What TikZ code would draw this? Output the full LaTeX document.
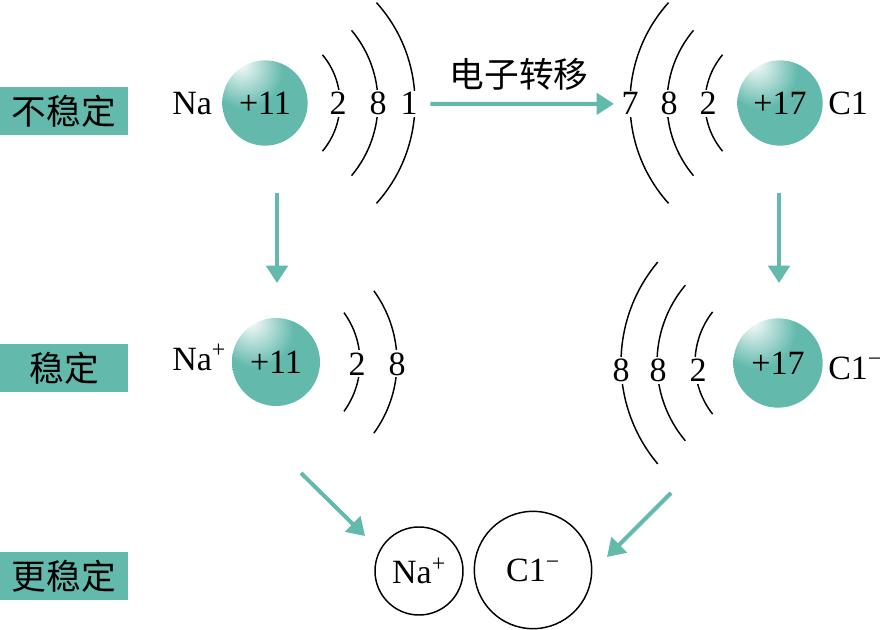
\documentclass[tikz,border=0pt]{standalone}
\usepackage{fontspec}
\setmainfont{Liberation Serif}
\newfontfamily\cjk{Noto Sans CJK SC}
\usetikzlibrary{arrows.meta}
\definecolor{atomteal}{RGB}{98,185,172}
\pgfdeclareradialshading{ballhl}{\pgfpoint{-15bp}{24bp}}{color(0bp)=(white); color(3bp)=(white!85!atomteal); color(22bp)=(atomteal); color(100bp)=(atomteal)}
\begin{document}
\begin{tikzpicture}[x=0.75pt,y=-0.75pt,
  font=\fontsize{25.5}{30}\selectfont,
  ball/.style={circle,shading=ballhl,minimum size=64pt,inner sep=0pt},
  ion/.style={circle,draw,line width=1.1pt,inner sep=0pt},
  tag/.style={fill=atomteal,minimum width=96pt,minimum height=36pt,inner sep=0pt,font=\cjk\fontsize{26}{30}\selectfont},
  shellno/.style={fill=white,inner sep=1.5pt,anchor=base},
  shell/.style={line width=1.1pt},
  flow/.style={draw=atomteal,line width=3pt,-{Triangle[length=13pt,width=16pt]}}]
\useasboundingbox (0,0) rectangle (884,630);
\node (t1) at (64,111) [tag] {不稳定};
\node (t2) at (64,368) [tag] {稳定};
\node (t3) at (64,576) [tag] {更稳定};
\node (na1) at (265,103) [ball] {+11};
\node (cl1) at (780,103) [ball] {+17};
\node (na2) at (276,362) [ball,minimum size=66pt] {+11};
\node (cl2) at (778,363) [ball,minimum size=67pt] {+17};
\node (nasym1) at (172,115) [anchor=base west,inner sep=0pt] {Na};
\node (clsym1) at (828,115) [anchor=base west,inner sep=0pt] {C1};
\node (nasym2) at (172,370) [anchor=base west,inner sep=0pt] {Na\textsuperscript{+}};
\node (clsym2) at (828,379) [anchor=base west,inner sep=0pt] {C1\textsuperscript{−}};
\foreach \r/\a in {75/40,113/40,150/42}
  \draw[shell] (na1.center) ++(-\a:\r) arc[start angle=-\a,end angle=\a,radius=\r];
\foreach \r/\a in {75/40,113/40,150/42}
  \draw[shell] (cl1.center) ++({180-\a}:\r) arc[start angle=180-\a,end angle=180+\a,radius=\r];
\foreach \r/\a in {84/36,121/36}
  \draw[shell] (na2.center) ++(-\a:\r) arc[start angle=-\a,end angle=\a,radius=\r];
\foreach \r/\a in {83/38,121/40,157/40}
  \draw[shell] (cl2.center) ++({180-\a}:\r) arc[start angle=180-\a,end angle=180+\a,radius=\r];
\node (n11) at (338,115) [shellno] {2};
\node (n12) at (378,115) [shellno] {8};
\node (n13) at (409,115) [shellno] {1};
\node (c13) at (630,115) [shellno] {7};
\node (c12) at (669,115) [shellno] {8};
\node (c11) at (708,115) [shellno] {2};
\node (n21) at (357,375) [shellno] {2};
\node (n22) at (397,375) [shellno] {8};
\node (c23) at (621,382) [shellno] {8};
\node (c22) at (658,382) [shellno] {8};
\node (c21) at (698,382) [shellno] {2};
\node (mv) at (519,74) [font=\cjk\fontsize{26}{30}\selectfont] {电子转移};
\node (na3) at (419,571) [ion,minimum size=66pt] {Na\textsuperscript{+}};
\node (cl3) at (533,570) [ion,minimum size=88pt] {C1\textsuperscript{−}};
\coordinate (d1) at (277,193);
\coordinate (d2) at (277,283);
\coordinate (d3) at (779,193);
\coordinate (d4) at (779,283);
\coordinate (d5) at (301,473);
\coordinate (d6) at (365,536);
\coordinate (d7) at (671,493);
\coordinate (d8) at (607,557);
\draw[flow,shorten <=8pt,shorten >=4pt] (n13.east) -- (c13.west);
\draw[flow] (d1) -- (d2);
\draw[flow] (d3) -- (d4);
\draw[flow] (d5) -- (d6);
\draw[flow] (d7) -- (d8);
\end{tikzpicture}
\end{document}
